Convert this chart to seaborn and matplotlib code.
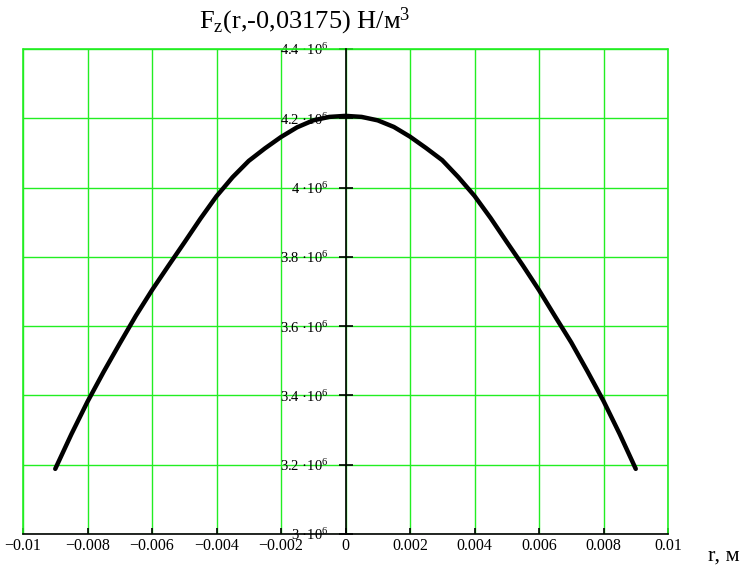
import numpy as np
import pandas as pd
import matplotlib
matplotlib.use("Agg")
import matplotlib.pyplot as plt
import seaborn as sns

# Radial coordinate, m
r_values = [-0.009, -0.0085, -0.008, -0.0075, -0.007, -0.0065, -0.006, -0.0055, -0.005,
            -0.0045, -0.004, -0.0035, -0.003, -0.0025, -0.002, -0.0015, -0.001, -0.0005,
            0.0,
            0.0005, 0.001, 0.0015, 0.002, 0.0025, 0.003, 0.0035, 0.004, 0.0045,
            0.005, 0.0055, 0.006, 0.0065, 0.007, 0.0075, 0.008, 0.0085, 0.009]
# Axial force density F_z(r, -0.03175), N/m^3
fz_values = [3.188e6, 3.288e6, 3.382e6, 3.468e6, 3.55e6, 3.63e6, 3.704e6, 3.773e6, 3.841e6,
             3.91e6, 3.975e6, 4.03e6, 4.077e6, 4.113e6, 4.146e6, 4.174e6, 4.194e6, 4.204e6,
             4.207e6,
             4.204e6, 4.194e6, 4.175e6, 4.147e6, 4.114e6, 4.079e6, 4.03e6, 3.976e6, 3.912e6,
             3.843e6, 3.775e6, 3.704e6, 3.628e6, 3.553e6, 3.47e6, 3.384e6, 3.289e6, 3.188e6]

x_ticks = [-0.01, -0.008, -0.006, -0.004, -0.002, 0.0, 0.002, 0.004, 0.006, 0.008, 0.01]
x_tick_labels = ["\u22120.01", "\u22120.008", "\u22120.006", "\u22120.004", "\u22120.002", "0",
                 "0.002", "0.004", "0.006", "0.008", "0.01"]
y_ticks = [3.0e6, 3.2e6, 3.4e6, 3.6e6, 3.8e6, 4.0e6, 4.2e6, 4.4e6]
y_tick_labels = ["3 \u00b710$^{6}$", "3.2 \u00b710$^{6}$", "3.4 \u00b710$^{6}$", "3.6 \u00b710$^{6}$",
                 "3.8 \u00b710$^{6}$", "4 \u00b710$^{6}$", "4.2 \u00b710$^{6}$", "4.4 \u00b710$^{6}$"]

sns.set_theme(style="white")
plt.rcParams["font.family"] = ["Liberation Serif", "DejaVu Serif"]
plt.rcParams["mathtext.fontset"] = "custom"
plt.rcParams["mathtext.rm"] = "Liberation Serif"
plt.rcParams["mathtext.it"] = "Liberation Serif"
plt.rcParams["mathtext.default"] = "regular"

df = pd.DataFrame({"r": r_values, "Fz": fz_values})

fig = plt.figure(figsize=(7.48, 5.74), dpi=100)
ax = fig.add_axes([23 / 748, 1 - 534 / 574, 645 / 748, 485 / 574])
ax.set_facecolor("white")

green = "#22ee22"
ax.grid(True, color=green, linewidth=1.0)
ax.set_axisbelow(True)

sns.lineplot(data=df, x="r", y="Fz", ax=ax, color="black", linewidth=3.2,
             estimator=None, sort=False, zorder=5)
ax.lines[-1].set_solid_joinstyle("round")

ax.set_xlim(-0.01, 0.01)
ax.set_ylim(3.0e6, 4.4e6)
ax.set_xticks(x_ticks)
ax.set_xticklabels(x_tick_labels)
ax.set_yticks(y_ticks)
ax.set_yticklabels(y_tick_labels)
ax.set_xlabel("")
ax.set_ylabel("")

# Frame: green border lines, black axes at y = 3e6 and x = 0
for side in ("top", "right"):
    ax.spines[side].set_visible(False)
ax.axhline(4.4e6, color=green, linewidth=1.2, zorder=1, clip_on=False)
ax.axvline(0.01, color=green, linewidth=1.2, zorder=1, clip_on=False)
ax.axvline(-0.01, color=green, linewidth=1.2, zorder=1, clip_on=False)
ax.spines["bottom"].set_color("black")
ax.spines["bottom"].set_linewidth(1.2)
ax.spines["left"].set_position(("data", 0))
ax.spines["left"].set_color("black")
ax.spines["left"].set_linewidth(1.2)
ax.spines["left"].set_zorder(6)

ax.tick_params(axis="x", direction="in", length=4.5, width=1.2, color="black",
               pad=3, labelsize=11.5, labelcolor="black", bottom=True)
ax.tick_params(axis="y", direction="inout", length=10, width=1.2, color="black",
               pad=7, labelsize=10.5, labelcolor="black", left=True)

fig.text(0.408, 0.963, "F$_{z}$(r,-0,03175) \u041d/\u043c$^{3}$", ha="center", va="center",
         fontsize=19, color="black")
fig.text(0.968, 0.031, "r, \u043c", ha="center", va="center", fontsize=16, color="black")

fig.savefig("out.png", dpi=100)
